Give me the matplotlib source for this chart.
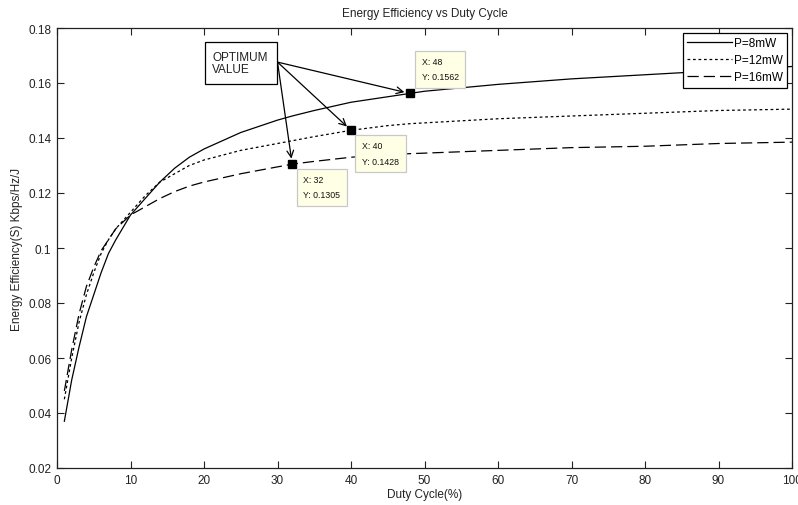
import matplotlib
matplotlib.use("Agg")
import matplotlib.pyplot as plt
from matplotlib.patches import Rectangle

plt.rcParams['font.family'] = ['Liberation Sans', 'DejaVu Sans']

duty = [1, 2, 3, 4, 5, 6, 7, 8, 10, 12, 14, 16, 18, 20, 25, 30, 32, 35, 40, 45, 48, 50, 60, 70, 80, 90, 100]
eff_8mw = [0.037, 0.052, 0.064, 0.075, 0.083, 0.091, 0.098, 0.103, 0.112, 0.118, 0.124, 0.129, 0.133, 0.136,
           0.142, 0.1465, 0.148, 0.150, 0.153, 0.155, 0.1562, 0.157, 0.1595, 0.1615, 0.163, 0.1645, 0.166]
eff_12mw = [0.045, 0.060, 0.073, 0.083, 0.091, 0.098, 0.103, 0.107, 0.113, 0.119, 0.124, 0.127, 0.130, 0.132,
            0.1355, 0.138, 0.139, 0.1405, 0.1428, 0.1445, 0.1452, 0.1455, 0.147, 0.148, 0.149, 0.150, 0.1505]
eff_16mw = [0.048, 0.063, 0.076, 0.086, 0.093, 0.099, 0.103, 0.107, 0.112, 0.115, 0.118, 0.1205, 0.1225, 0.124,
            0.127, 0.1295, 0.1305, 0.1315, 0.133, 0.134, 0.1343, 0.1345, 0.1355, 0.1365, 0.137, 0.138, 0.1385]
labels = ['P=8mW', 'P=12mW', 'P=16mW']
opt_x = [48, 40, 32]
opt_y = [0.1562, 0.1428, 0.1305]

fig = plt.figure(figsize=(7.98, 5.06), dpi=100)
ax = fig.add_axes([57/798, 37/506, 735/798, 440/506])

tc = '#222222'
ax.plot(duty, eff_8mw, color='black', lw=0.9, ls='-', label=labels[0])
ax.plot(duty, eff_12mw, color='black', lw=0.9, ls=(0, (2.2, 2.2)), label=labels[1])
ax.plot(duty, eff_16mw, color='black', lw=0.9, ls=(0, (9, 4)), label=labels[2])

ax.plot(opt_x, opt_y, ls='none', marker='s', color='black', markersize=5.5)

ax.set_xlim(0, 100)
ax.set_ylim(0.02, 0.18)
ax.set_xticks(range(0, 101, 10))
ax.set_yticks([0.02, 0.04, 0.06, 0.08, 0.1, 0.12, 0.14, 0.16, 0.18])
ax.set_yticklabels(['0.02', '0.04', '0.06', '0.08', '0.1', '0.12', '0.14', '0.16', '0.18'])
ax.tick_params(direction='in', length=5, width=0.8, top=True, right=True, labelsize=8.5,
               colors=tc, pad=4)
for s in ax.spines.values():
    s.set_linewidth(0.9)
    s.set_color('#222222')

ax.set_title('Energy Efficiency vs Duty Cycle', fontsize=8.5, color=tc, pad=9)
ax.set_xlabel('Duty Cycle(%)', fontsize=8.5, color=tc, labelpad=2)
ax.set_ylabel('Energy Efficiency(S) Kbps/Hz/J', fontsize=8.5, color=tc, labelpad=4)

leg = ax.legend(loc='upper right', fontsize=8.5, frameon=True, fancybox=False, edgecolor='black',
                framealpha=1, borderpad=0.35, labelspacing=0.45, handlelength=3.8, handletextpad=0.2,
                borderaxespad=0.4)
leg.get_frame().set_linewidth(0.9)

# OPTIMUM VALUE box
ax.add_patch(Rectangle((20.2, 0.1596), 9.7, 0.0153, facecolor='white', edgecolor='black', lw=0.9, zorder=5))
ax.text(21.1, 0.1673, 'OPTIMUM\nVALUE', fontsize=8.5, ha='left', va='center', color=tc,
        linespacing=1.05, zorder=6)
for xo, yo in zip(opt_x, opt_y):
    ax.annotate('', xy=(xo, yo), xytext=(30.0, 0.1676),
                arrowprops=dict(arrowstyle='->', color='black', lw=0.9, shrinkA=0, shrinkB=4,
                                mutation_scale=12))

# data tips
tip_offsets = [(12, 12), (11, -11), (11, -11)]
tip_va = ['bottom', 'top', 'top']
for (xo, yo), off, va in zip(zip(opt_x, opt_y), tip_offsets, tip_va):
    ax.annotate('X: %d\nY: %.4f' % (xo, yo), xy=(xo, yo), xytext=off, textcoords='offset pixels',
                ha='left', va=va, fontsize=6.3, color='#111111', linespacing=1.9,
                bbox=dict(boxstyle='square,pad=0.75', facecolor='#FFFFE6', edgecolor='#C8C8C8', lw=0.9),
                zorder=7)

fig.savefig('out.png', dpi=100)
